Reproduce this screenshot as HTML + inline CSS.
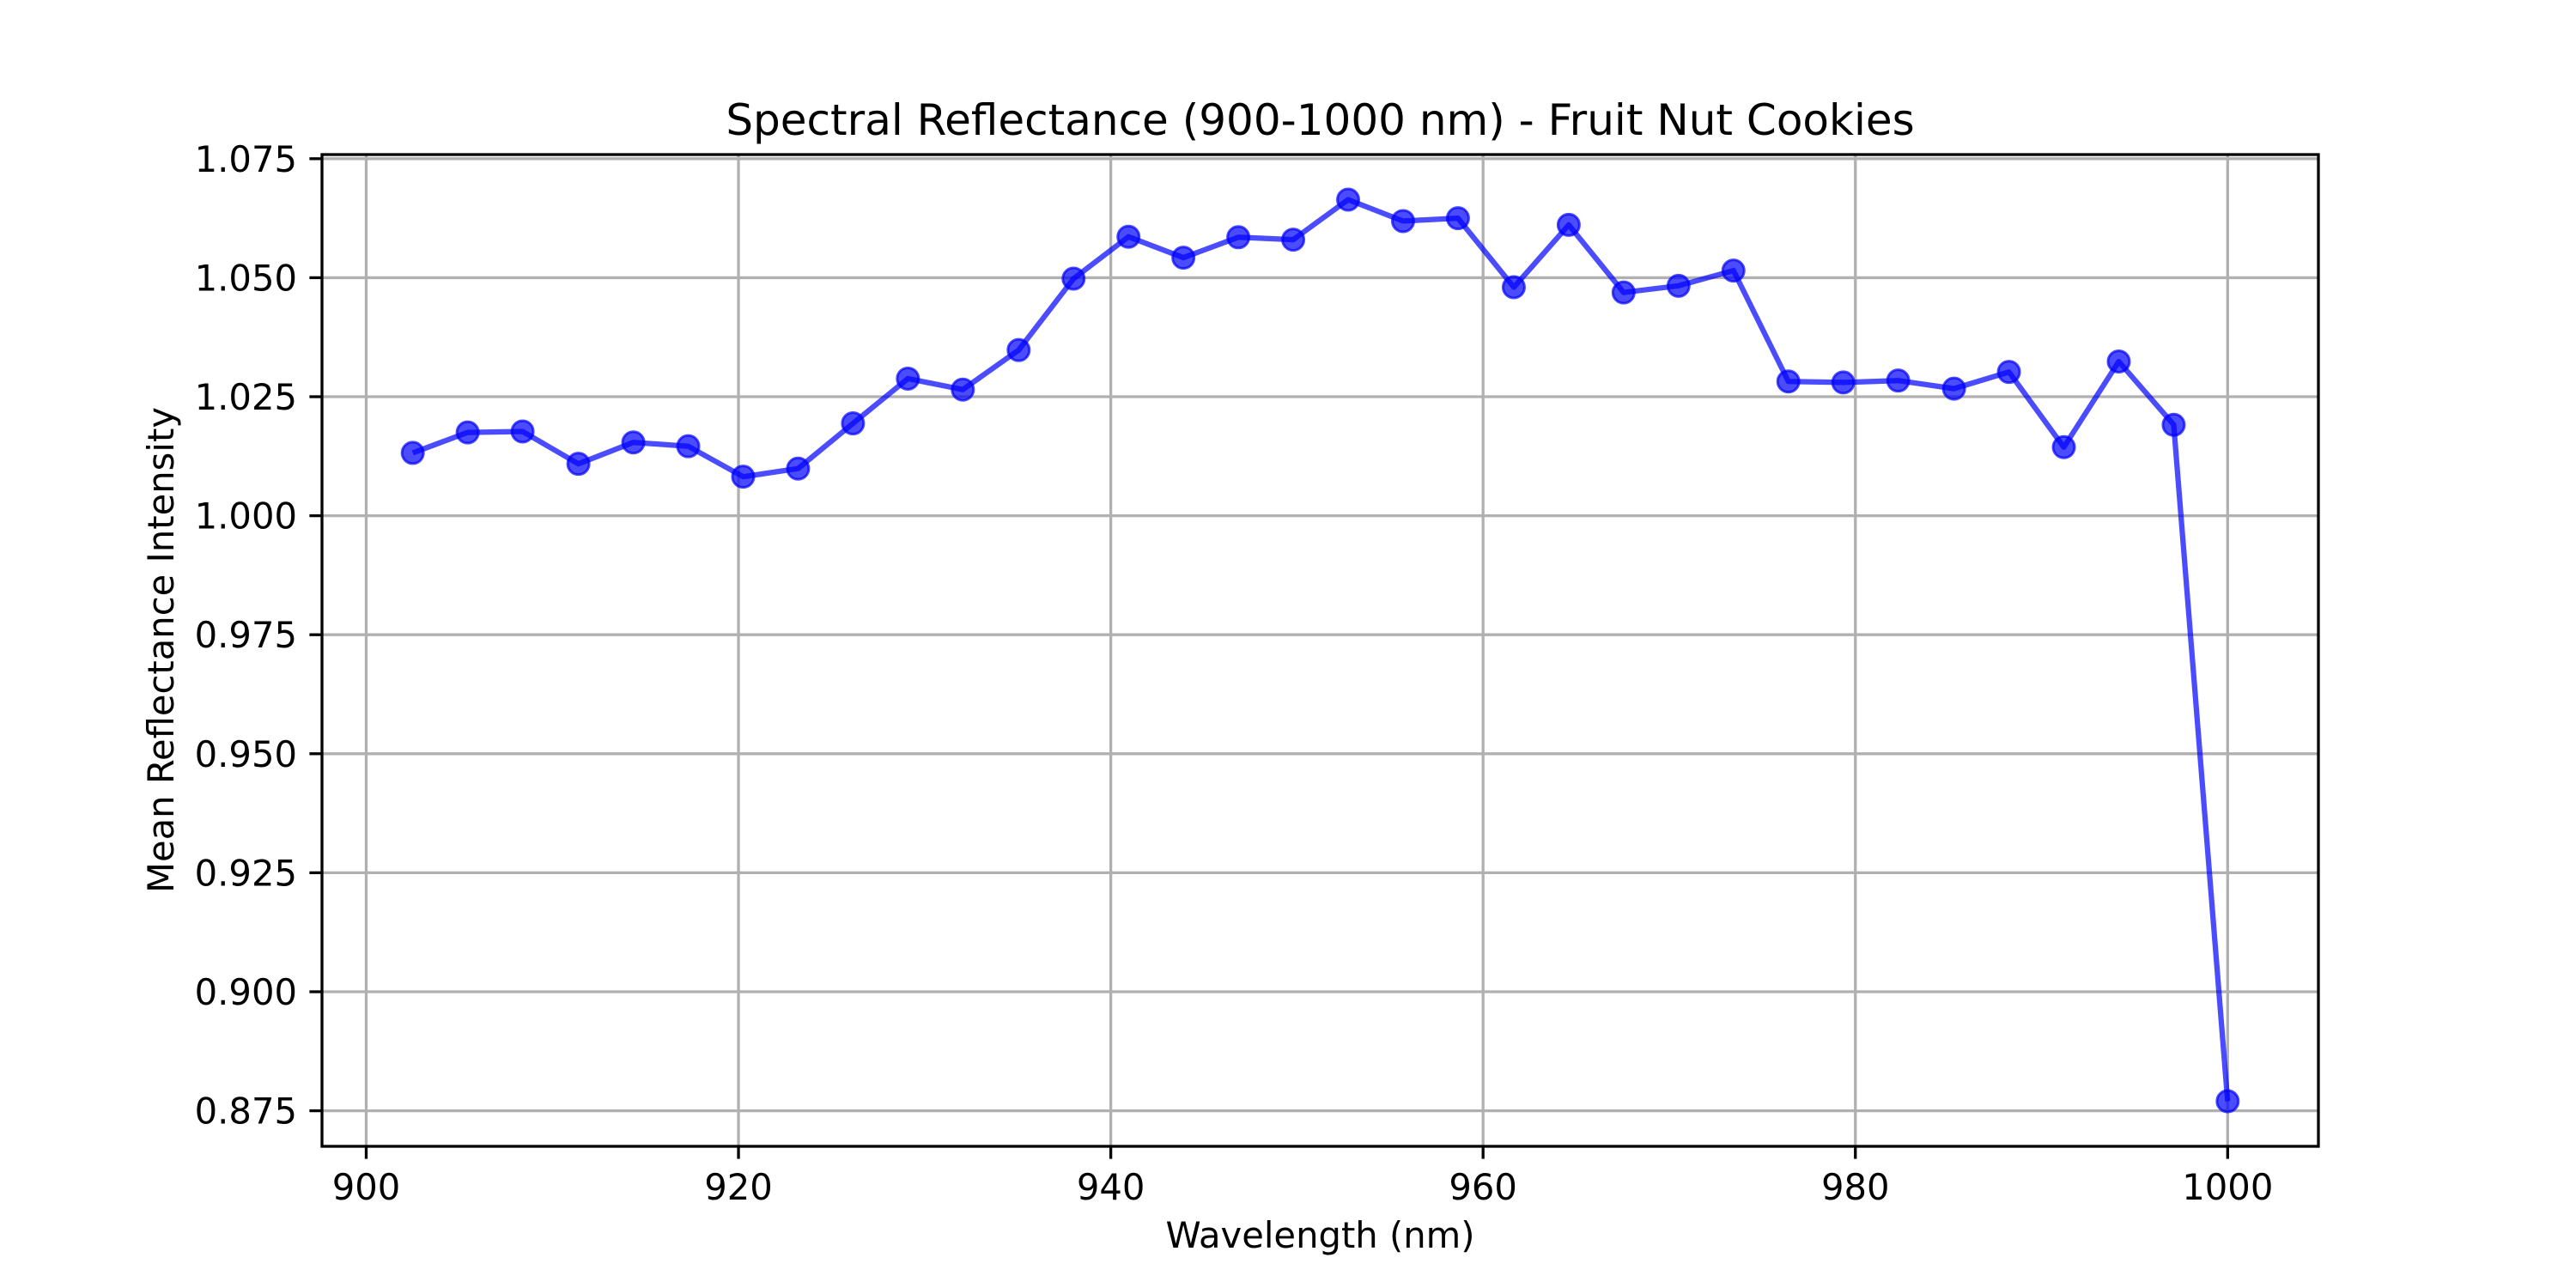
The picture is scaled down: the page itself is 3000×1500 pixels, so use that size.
<!DOCTYPE html>
<html><head><meta charset="utf-8"><style>
html,body{margin:0;padding:0;background:#fff;}
svg{display:block;font-family:"DejaVu Sans","Liberation Sans",sans-serif;}
</style></head><body>
<svg id="chart" width="3000" height="1500" viewBox="0 0 3000 1500" xmlns="http://www.w3.org/2000/svg">
<rect width="3000" height="1500" fill="#fff"/>
<g id="grid"></g>
<g id="series"></g>
<rect x="375" y="180" width="2325" height="1155" fill="none" stroke="#000" stroke-width="3.3"/>
<g id="axes"></g>
<text x="1537.5" y="157" font-size="50" text-anchor="middle">Spectral Reflectance (900-1000 nm) - Fruit Nut Cookies</text>
<text x="1537.5" y="1453" font-size="41.7" text-anchor="middle">Wavelength (nm)</text>
<text x="0" y="0" font-size="41.7" text-anchor="middle" transform="translate(202,757) rotate(-90)">Mean Reflectance Intensity</text>
</svg>
<script>
const wavelengths = [902.5,905.45,908.4,911.4,914.35,917.3,920.25,923.2,926.15,929.1,932.05,935.05,938.0,940.95,943.9,946.85,949.8,952.75,955.7,958.65,961.65,964.6,967.55,970.5,973.45,976.4,979.35,982.3,985.3,988.25,991.2,994.15,997.1,1000.0];
const reflectance = [1.0132,1.0175,1.0177,1.0109,1.0154,1.0146,1.0082,1.0099,1.0194,1.0288,1.0265,1.0348,1.0498,1.0586,1.0542,1.0585,1.0580,1.0664,1.0619,1.0625,1.0480,1.0611,1.0469,1.0483,1.0515,1.0282,1.0280,1.0284,1.0267,1.0302,1.0144,1.0324,1.0191,0.8770];
const xTicks = [900,920,940,960,980,1000];
const yTicks = [0.875,0.900,0.925,0.950,0.975,1.000,1.025,1.050,1.075];

const NS = "http://www.w3.org/2000/svg";
const L = 375, R = 2700, T = 180, B = 1335;
const xmin0 = Math.min(...wavelengths), xmax0 = Math.max(...wavelengths);
const ymin0 = Math.min(...reflectance), ymax0 = Math.max(...reflectance);
const xm = (xmax0 - xmin0) * 0.05, ym = (ymax0 - ymin0) * 0.05;
const xlo = xmin0 - xm, xhi = xmax0 + xm, ylo = ymin0 - ym, yhi = ymax0 + ym;
function sx(v){ return L + (v - xlo) / (xhi - xlo) * (R - L); }
function sy(v){ return B - (v - ylo) / (yhi - ylo) * (B - T); }
function mk(tag, attrs, parent){ const e = document.createElementNS(NS, tag); for (const k in attrs) e.setAttribute(k, attrs[k]); parent.appendChild(e); return e; }

const grid = document.getElementById('grid');
const axes = document.getElementById('axes');
const series = document.getElementById('series');

xTicks.forEach(t => {
  const x = sx(t);
  if (x < L - 1 || x > R + 1) return;
  const g = mk('line', {x1:x, x2:x, y1:T, y2:B, stroke:'#b0b0b0', 'stroke-width':3.3}, grid);
  
  
  const tk = mk('line', {x1:x, x2:x, y1:B, y2:B+14.6, stroke:'#000', 'stroke-width':3.3}, axes);
  
  
  const lb = mk('text', {x:x, y:1397, 'font-size':41.7, 'text-anchor':'middle'}, axes);
  lb.textContent = String(t);
  
  
});
yTicks.forEach(t => {
  const y = sy(t);
  if (y < T - 1 || y > B + 1) return;
  const g = mk('line', {x1:L, x2:R, y1:y, y2:y, stroke:'#b0b0b0', 'stroke-width':3.3}, grid);
  
  
  const tk = mk('line', {x1:L-14.6, x2:L, y1:y, y2:y, stroke:'#000', 'stroke-width':3.3}, axes);
  
  
  const lb = mk('text', {x:346, y:y+15, 'font-size':41.7, 'text-anchor':'end'}, axes);
  lb.textContent = t.toFixed(3);
  
  
});

const pts = wavelengths.map((w, i) => sx(w).toFixed(1) + ',' + sy(reflectance[i]).toFixed(1)).join(' ');
const line = mk('polyline', {points:pts, fill:'none', stroke:'#0000ff', 'stroke-opacity':0.7, 'stroke-width':6.25, 'stroke-linejoin':'round'}, series);


wavelengths.forEach((w, i) => {
  const c = mk('circle', {cx:sx(w), cy:sy(reflectance[i]), r:12.5, fill:'#0000ff', 'fill-opacity':0.7, stroke:'#0000ff', 'stroke-opacity':0.7, 'stroke-width':3}, series);
  
  
});
</script>
</body></html>
